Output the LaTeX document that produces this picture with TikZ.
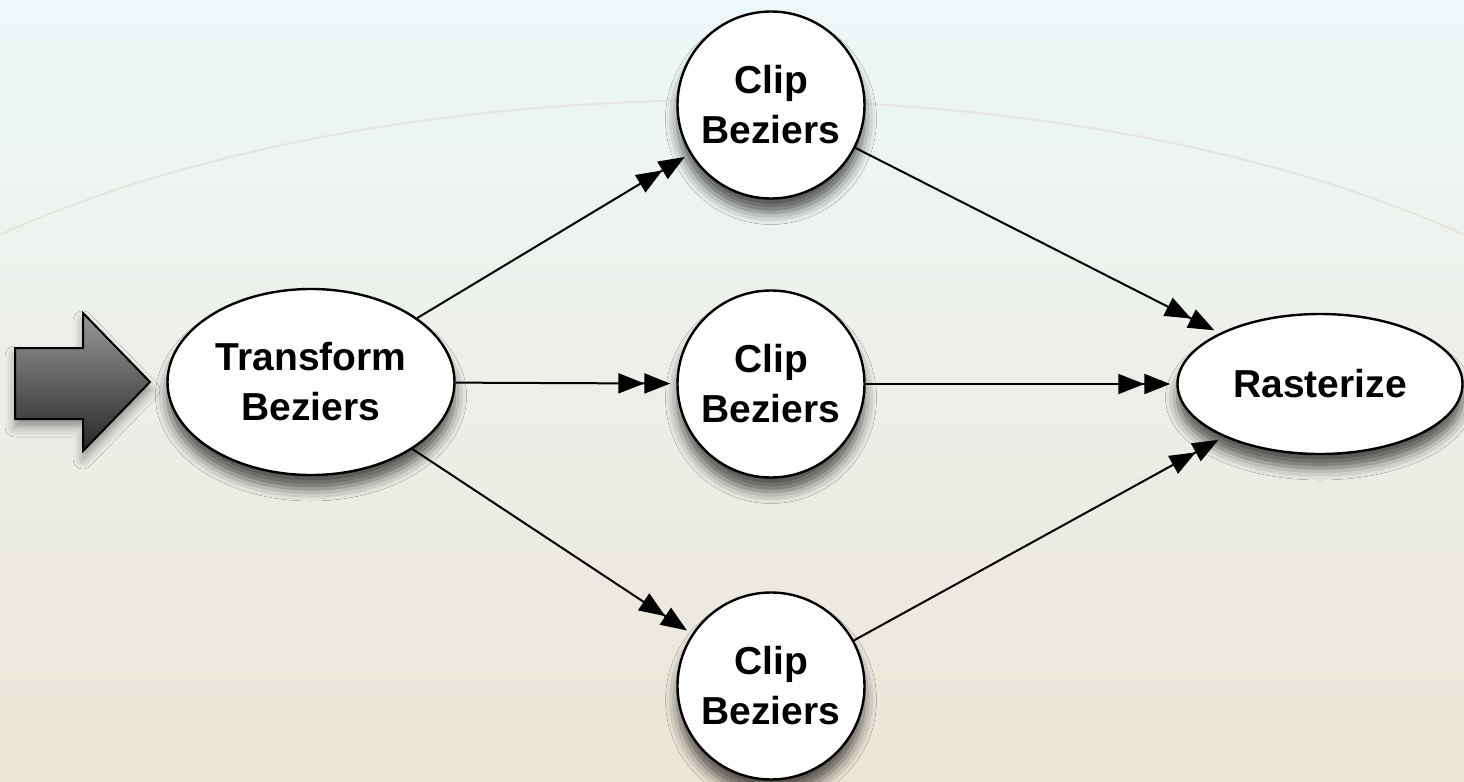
\documentclass[tikz,border=0pt]{standalone}
\usepackage{fontspec}
\setmainfont{Liberation Sans}
\usetikzlibrary{shapes.geometric,arrows.meta,shadows.blur}

\definecolor{bgtop}{HTML}{EDF8F8}
\definecolor{bgmid}{HTML}{F4F7F3}
\definecolor{bgbot}{HTML}{ECE5D8}
\definecolor{sheen}{HTML}{E6E1DA}

\tikzset{
  stage/.style={ellipse, draw=black, line width=1.2pt, fill=white,
    inner sep=0pt, inner xsep=-8pt, align=center,
    font=\fontsize{19.5}{25}\selectfont\bfseries,
    blur shadow={shadow xshift=0pt, shadow yshift=-7pt,
      shadow blur radius=6pt, shadow opacity=65, shadow scale=1}},
  clipstage/.style={stage, minimum width=93.5pt, minimum height=93.5pt},
  widestage/.style={stage, minimum width=143.5pt, minimum height=93pt},
  flatstage/.style={stage, minimum width=142.5pt, minimum height=70pt},
  flow/.style={draw=black, line width=1pt, shorten >=3pt,
    -{Triangle[length=13pt,width=10pt,fill=black]Triangle[length=13pt,width=10pt,fill=black]}}
}

\begin{document}
\begin{tikzpicture}[x=0.5pt, y=-0.5pt]
  % canvas
  \useasboundingbox (0,0) rectangle (1464,782);
  \shade[top color=bgtop, middle color=bgmid, bottom color=bgbot]
    (0,0) rectangle (1464,782);
  % faint sheen arc across the upper part
  \begin{scope}
    \clip (0,0) rectangle (1464,782);
    \draw[sheen, opacity=0.8, line width=1pt]
      (732,523) ellipse [x radius=1000, y radius=423];
  \end{scope}

  % input arrow
  \draw[black, line width=1pt, top color=gray!80!white, bottom color=black!85,
        blur shadow={shadow xshift=0pt, shadow yshift=-4pt, shadow blur radius=5pt, shadow opacity=40}]
    (15,348) -- (83,348) -- (83,313) -- (150,382) -- (83,451) -- (83,419)
    -- (15,419) -- cycle;
  \coordinate (feed) at (150,382);

  % stages
  \node[widestage] (xf) at (311,382) {Transform\\Beziers};
  \node[clipstage] (c1) at (771,105) {Clip\\Beziers};
  \node[clipstage] (c2) at (771,384) {Clip\\Beziers};
  \node[clipstage] (c3) at (771,686) {Clip\\Beziers};
  \node[flatstage] (ras) at (1320,384) {Rasterize};

  % connectors
  \draw[flow] (xf) -- (c1);
  \draw[flow] (xf) -- (c2);
  \draw[flow] (xf) -- (c3);
  \draw[flow] (c1) -- (ras);
  \draw[flow] (c2) -- (ras);
  \draw[flow] (c3) -- (ras);
\end{tikzpicture}
\end{document}
